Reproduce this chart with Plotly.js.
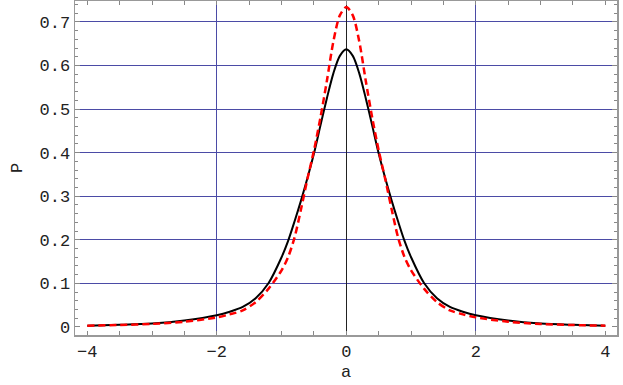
<!DOCTYPE html>
<html>
<head>
<meta charset="utf-8">
<script src="https://cdn.plot.ly/plotly-3.0.1.min.js"></script>
<style>
  html, body { margin: 0; padding: 0; background: #fff; }
  #myGraph { width: 623px; height: 385px; }
</style>
</head>
<body>
<div id="myGraph"></div>
<script>
// values (a, P)
var aVals = [-4, -3.5, -3, -2.5, -2, -1.8, -1.6, -1.4, -1.2, -1, -0.9, -0.8, -0.7, -0.6, -0.5, -0.4, -0.3, -0.2, -0.1, 0,
             0.1, 0.2, 0.3, 0.4, 0.5, 0.6, 0.7, 0.8, 0.9, 1, 1.2, 1.4, 1.6, 1.8, 2, 2.5, 3, 3.5, 4];
var pSolid = [0.003, 0.005, 0.008, 0.015, 0.027, 0.035, 0.046, 0.066, 0.101, 0.16, 0.197, 0.242, 0.29, 0.342, 0.398, 0.462, 0.525, 0.582, 0.622, 0.637,
              0.622, 0.582, 0.525, 0.462, 0.398, 0.342, 0.29, 0.242, 0.197, 0.16, 0.101, 0.066, 0.046, 0.035, 0.027, 0.015, 0.008, 0.005, 0.003];
var pDashed = [0.003, 0.0045, 0.007, 0.012, 0.022, 0.029, 0.038, 0.057, 0.088, 0.13, 0.16, 0.205, 0.27, 0.34, 0.405, 0.48, 0.565, 0.655, 0.715, 0.734,
               0.715, 0.655, 0.565, 0.48, 0.405, 0.34, 0.27, 0.205, 0.16, 0.13, 0.088, 0.057, 0.038, 0.029, 0.022, 0.012, 0.007, 0.0045, 0.003];

var xTicks = [-4, -2, 0, 2, 4];
var xTickText = ['\u22124', '\u22122', '0', '2', '4'];
var yTicks = [0, 0.1, 0.2, 0.3, 0.4, 0.5, 0.6, 0.7];
var yTickText = ['0', '0.1', '0.2', '0.3', '0.4', '0.5', '0.6', '0.7'];
var xGrid = [-2, 2];
var yGrid = [0.1, 0.2, 0.3, 0.4, 0.5, 0.6, 0.7];

var xRange = [-4.19, 4.18];
var yRange = [-0.0184, 0.748];
var monoFont = 'Liberation Mono, Courier New, monospace';

// empty trace so the grid subplot (x, y) is drawn under the curves
var gridHolder = {
    x: [0], y: [0], xaxis: 'x', yaxis: 'y',
    type: 'scatter', mode: 'markers',
    marker: { size: 0.1, opacity: 0 },
    hoverinfo: 'skip'
};
var solid = {
    x: aVals, y: pSolid,
    xaxis: 'x2', yaxis: 'y2',
    type: 'scatter', mode: 'lines',
    line: { color: 'black', width: 2, shape: 'spline', smoothing: 0.8 },
    hoverinfo: 'skip'
};
var dashed = {
    x: aVals, y: pDashed,
    xaxis: 'x2', yaxis: 'y2',
    type: 'scatter', mode: 'lines',
    line: { color: '#ff0000', width: 2.5, dash: '7px,4px', shape: 'spline', smoothing: 0.8 },
    hoverinfo: 'skip'
};

var layout = {
    width: 623, height: 385,
    margin: { l: 75, r: 6, t: 1, b: 50 },
    showlegend: false,
    paper_bgcolor: 'white',
    plot_bgcolor: 'white',
    font: { family: monoFont, size: 17, color: '#222' },
    // grid only
    xaxis: {
        range: xRange, tickmode: 'array', tickvals: xGrid,
        showgrid: true, gridcolor: '#4b4ba6', gridwidth: 1,
        zeroline: true, zerolinecolor: '#222', zerolinewidth: 1,
        showticklabels: false, ticks: '', showline: false, fixedrange: true
    },
    yaxis: {
        range: yRange, tickmode: 'array', tickvals: yGrid,
        showgrid: true, gridcolor: '#4b4ba6', gridwidth: 1,
        zeroline: false, showticklabels: false, ticks: '', showline: false, fixedrange: true
    },
    // frame, ticks, labels
    xaxis2: {
        overlaying: 'x', side: 'bottom', range: xRange,
        tickmode: 'array', tickvals: xTicks, ticktext: xTickText,
        ticks: 'inside', ticklen: 4, tickwidth: 1, tickcolor: '#888',
        minor: { tickmode: 'linear', tick0: 0, dtick: 0.5, ticks: 'inside', ticklen: 4, tickcolor: '#888', showgrid: false },
        showgrid: false, zeroline: false,
        showline: true, linecolor: '#999', linewidth: 1.5, mirror: 'allticks',
        tickfont: { family: monoFont, size: 17, color: '#222' },
        title: { text: 'a', font: { family: monoFont, size: 17, color: '#222' }, standoff: 4 }
    },
    yaxis2: {
        overlaying: 'y', side: 'left', range: yRange,
        tickmode: 'array', tickvals: yTicks, ticktext: yTickText,
        ticks: 'inside', ticklen: 5, tickwidth: 1, tickcolor: '#888',
        minor: { tickmode: 'linear', tick0: 0, dtick: 0.02, ticks: 'inside', ticklen: 3, tickcolor: '#888', showgrid: false },
        showgrid: false, zeroline: false,
        showline: true, linecolor: '#999', linewidth: 1.5, mirror: 'allticks',
        tickfont: { family: monoFont, size: 17, color: '#222' },
        title: { text: 'P', font: { family: monoFont, size: 17, color: '#222' }, standoff: 12 }
    }
};

var config = { displayModeBar: false, responsive: false, staticPlot: true };

Plotly.newPlot('myGraph', [gridHolder, solid, dashed], layout, config);
</script>
</body>
</html>
